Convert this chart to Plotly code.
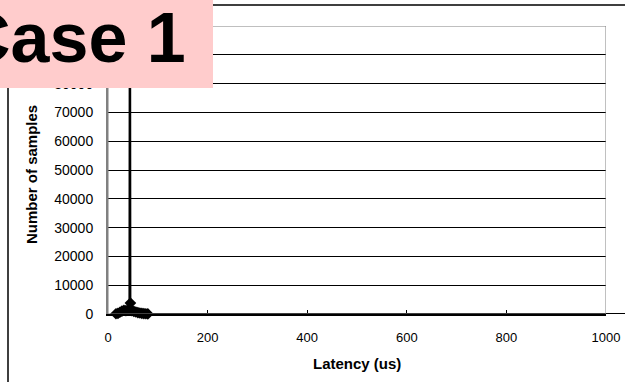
import plotly.graph_objects as go

# Latency histogram: samples per latency bucket (microseconds)
latency_us = [16, 20, 24, 28, 32, 36, 40, 43, 44, 45, 48, 52, 56, 60, 64, 68, 72, 76, 80, 2000]
samples = [80, 250, 600, 1000, 1300, 1200, 1300, 1500, 185000, 3800, 1200, 900, 700, 500, 350, 250, 150, 80, 30, 0]

x_ticks = [0, 200, 400, 600, 800, 1000]
y_max = 100000
y_step = 10000

FONT = "Liberation Sans, Arial, sans-serif"

W, H = 625, 382
ML, MR, MT, MB = 108, 0, 26, 68
plot_w = W - ML - MR
plot_h = H - MT - MB
x_end_px = 606  # right edge of the framed plot area
x_frac = (x_end_px - ML) / plot_w


def px_x(p):
    return (p - ML) / plot_w


def px_y(p):
    return (H - MB - p) / plot_h


fig = go.Figure()

fig.add_trace(go.Scatter(
    x=latency_us, y=samples,
    xaxis="x2", yaxis="y2",
    mode="lines+markers",
    line=dict(color="black", width=2),
    marker=dict(symbol="diamond", size=9, color="black"),
    cliponaxis=False,
    showlegend=False,
))

fig.update_layout(
    width=W, height=H,
    margin=dict(l=ML, r=MR, t=MT, b=MB, pad=0, autoexpand=False),
    paper_bgcolor="white",
    plot_bgcolor="rgba(0,0,0,0)",
    font=dict(family=FONT, color="black"),
    xaxis=dict(
        domain=[0, x_frac],
        range=[0, 1000],
        tickvals=x_ticks,
        ticks="inside", ticklen=4, tickcolor="black", tickwidth=1,
        showline=True, linecolor="black", linewidth=2,
        showgrid=False, zeroline=False, automargin=False,
        tickfont=dict(size=13, family=FONT),
        ticklabelstandoff=10,
    ),
    xaxis2=dict(
        domain=[0, 1],
        range=[0, 1000 / x_frac],
        anchor="y2",
        visible=False, automargin=False,
    ),
    yaxis=dict(
        range=[0, y_max],
        dtick=y_step,
        tickformat="d",
        showgrid=True, gridcolor="black", gridwidth=1,
        showline=True, linecolor="#808080", linewidth=2,
        ticks="", zeroline=False, automargin=False,
        tickfont=dict(size=14, family=FONT),
        ticklabelstandoff=10,
    ),
    yaxis2=dict(
        range=[0, y_max],
        overlaying="y",
        anchor="x2",
        visible=False, automargin=False,
    ),
    shapes=[
        # plot area border (top / right)
        dict(type="rect", xref="x", yref="y", x0=0, x1=1000, y0=0, y1=y_max,
             line=dict(color="#808080", width=1), layer="above"),
        # chart area frame
        dict(type="rect", xref="paper", yref="paper",
             x0=px_x(8), x1=px_x(700), y0=px_y(460), y1=px_y(5),
             line=dict(color="black", width=1.5), layer="above"),
        # label panel
        dict(type="rect", xref="paper", yref="paper",
             x0=px_x(-10), x1=px_x(213), y0=px_y(88), y1=px_y(-10),
             fillcolor="#FFCCCC", line=dict(width=0), layer="above"),
    ],
    annotations=[
        dict(text="<b>Latency (us)</b>", xref="paper", yref="paper",
             x=px_x(357), y=px_y(363), xanchor="center", yanchor="middle",
             showarrow=False, font=dict(size=15, family=FONT)),
        dict(text="<b>Number of samples</b>", xref="paper", yref="paper",
             x=px_x(31), y=px_y(175), xanchor="center", yanchor="middle",
             textangle=-90, showarrow=False, font=dict(size=15, family=FONT)),
        dict(text="<b>Case 1</b>", xref="paper", yref="paper",
             x=px_x(-42), y=px_y(38), xanchor="left", yanchor="middle",
             showarrow=False, font=dict(size=70, family=FONT)),
    ],
)

fig.write_html("out.html")
